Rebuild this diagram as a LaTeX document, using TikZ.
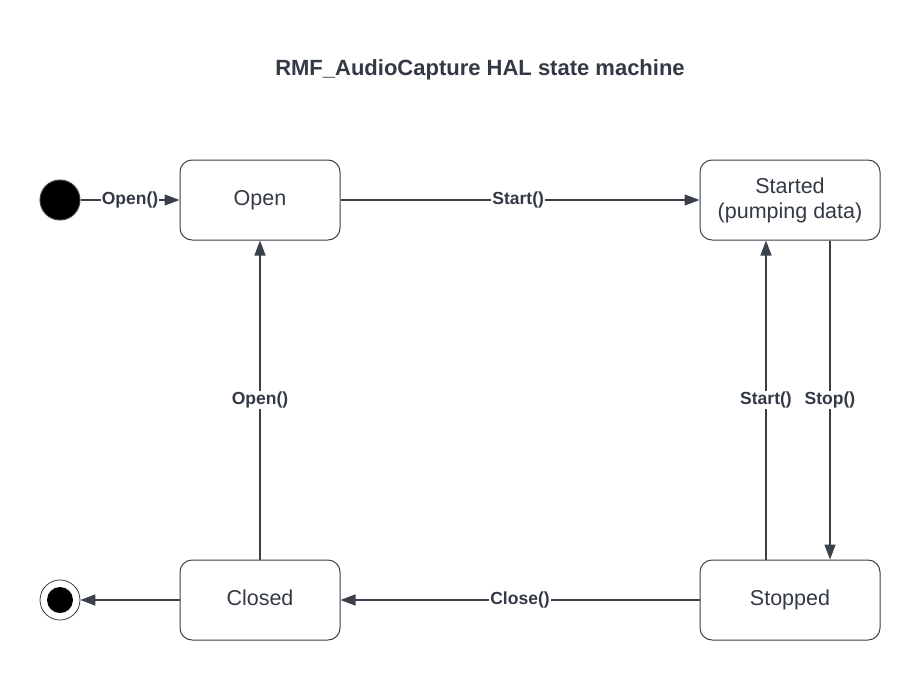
\documentclass[tikz,border=0pt]{standalone}
\usepackage{fontspec}
\setmainfont{Liberation Sans}
\usetikzlibrary{arrows.meta}
\definecolor{ink}{HTML}{3A414A}
\definecolor{txt}{HTML}{333A45}
\begin{document}
\begin{tikzpicture}[x=1pt,y=-1pt,
  state/.style={draw=ink,line width=1pt,rounded corners=12pt,minimum width=160pt,minimum height=80pt,fill=white,text=txt,font=\fontsize{21.5}{25}\selectfont,align=center,inner sep=0pt},
  oneline/.style={text height=16pt,text depth=6pt},
  edge/.style={draw=ink,line width=1.4pt,-{Triangle[length=15pt,width=11pt]}},
  lbl/.style={fill=white,text=txt,font=\bfseries\fontsize{17.5}{19}\selectfont,inner sep=1pt}]
\path[use as bounding box] (0,0) rectangle (920,680);
\node[text=txt,font=\bfseries\fontsize{22}{26}\selectfont] (title) at (480,70) {RMF\_AudioCapture HAL state machine};
\node[state,oneline] (open) at (260,200) {Open};
\node[state,minimum width=180pt] (started) at (790,200) {Started\\(pumping data)};
\node[state,oneline] (closed) at (260,600) {Closed};
\node[state,oneline,minimum width=180pt] (stopped) at (790,600) {Stopped};
\node[circle,fill=black,draw=ink,line width=1pt,minimum size=40pt,inner sep=0pt] (init) at (60,200) {};
\node[circle,draw=ink,line width=0.8pt,fill=white,minimum size=40pt,inner sep=0pt] (final) at (60,600) {};
\node[circle,fill=black,minimum size=26pt,inner sep=0pt] (finalin) at (60,600) {};
\draw[edge] (init) -- node[lbl,pos=0.5]{Open()} (open);
\draw[edge] (open) -- node[lbl,pos=0.495]{Start()} (started);
\coordinate (stx) at (830,400);
\draw[edge] (started.south -| stx) -- node[lbl]{Stop()} (stopped.north -| stx);
\coordinate (sux) at (766,400);
\draw[edge] (stopped.north -| sux) -- node[lbl]{Start()} (started.south -| sux);
\draw[edge] (closed) -- node[lbl]{Open()} (open);
\draw[edge] (stopped) -- node[lbl]{Close()} (closed);
\draw[edge] (closed) -- (final);
\end{tikzpicture}
\end{document}
